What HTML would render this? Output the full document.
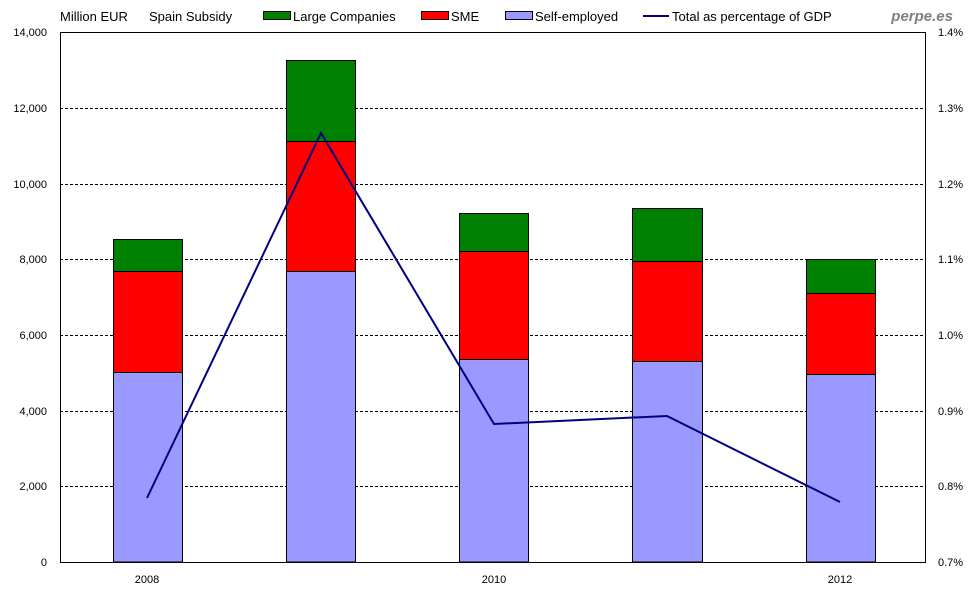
<!DOCTYPE html>
<html><head><meta charset="utf-8"><style>
body{margin:0;background:#fff}
svg{display:block;font-family:"Liberation Sans",Arial,sans-serif}
</style></head><body>
<svg width="980" height="600" viewBox="0 0 980 600">
<rect width="980" height="600" fill="#fff"/>
<g stroke="#000" stroke-width="1" stroke-dasharray="3,2">
<line x1="60" x2="925" y1="108.5" y2="108.5"/>
<line x1="60" x2="925" y1="184.5" y2="184.5"/>
<line x1="60" x2="925" y1="259.5" y2="259.5"/>
<line x1="60" x2="925" y1="335.5" y2="335.5"/>
<line x1="60" x2="925" y1="411.5" y2="411.5"/>
<line x1="60" x2="925" y1="486.5" y2="486.5"/>
</g>
<g stroke="#000" stroke-width="1">
<rect x="113.5" y="372.5" width="69" height="189.5" fill="#9999ff"/>
<rect x="113.5" y="271.5" width="69" height="101" fill="#ff0000"/>
<rect x="113.5" y="239.5" width="69" height="32" fill="#008000"/>
<rect x="286.5" y="271.5" width="69" height="290.5" fill="#9999ff"/>
<rect x="286.5" y="141.5" width="69" height="130" fill="#ff0000"/>
<rect x="286.5" y="60.5" width="69" height="81" fill="#008000"/>
<rect x="459.5" y="359.5" width="69" height="202.5" fill="#9999ff"/>
<rect x="459.5" y="251.5" width="69" height="108" fill="#ff0000"/>
<rect x="459.5" y="213.5" width="69" height="38" fill="#008000"/>
<rect x="632.5" y="361.5" width="70" height="200.5" fill="#9999ff"/>
<rect x="632.5" y="261.5" width="70" height="100" fill="#ff0000"/>
<rect x="632.5" y="208.5" width="70" height="53" fill="#008000"/>
<rect x="806.5" y="374.5" width="69" height="187.5" fill="#9999ff"/>
<rect x="806.5" y="293.5" width="69" height="81" fill="#ff0000"/>
<rect x="806.5" y="259.5" width="69" height="34" fill="#008000"/>
</g>
<rect x="60.5" y="32.5" width="865" height="530" fill="none" stroke="#000"/>
<polyline points="147,498 321,133 494,424 667,416 840,502" fill="none" stroke="#000080" stroke-width="2"/>
<g font-size="11" text-anchor="end" fill="#000">
<text x="47" y="36">14,000</text><text x="47" y="112">12,000</text><text x="47" y="188">10,000</text>
<text x="47" y="263">8,000</text><text x="47" y="339">6,000</text><text x="47" y="415">4,000</text>
<text x="47" y="490">2,000</text><text x="47" y="566">0</text>
</g>
<g font-size="11" fill="#000">
<text x="938" y="36">1.4%</text><text x="938" y="112">1.3%</text><text x="938" y="188">1.2%</text>
<text x="938" y="263">1.1%</text><text x="938" y="339">1.0%</text><text x="938" y="415">0.9%</text>
<text x="938" y="490">0.8%</text><text x="938" y="566">0.7%</text>
</g>
<g font-size="11" text-anchor="middle">
<text x="147" y="583">2008</text><text x="494" y="583">2010</text><text x="840" y="583">2012</text>
</g>
<g font-size="13">
<text x="60" y="21">Million EUR</text>
<text x="149" y="21">Spain Subsidy</text>
<rect x="263.5" y="11.5" width="27" height="8" fill="#008000" stroke="#000"/>
<text x="293" y="21">Large Companies</text>
<rect x="421.5" y="11.5" width="27" height="8" fill="#ff0000" stroke="#000"/>
<text x="451" y="21">SME</text>
<rect x="505.5" y="11.5" width="27" height="8" fill="#9999ff" stroke="#000"/>
<text x="535" y="21">Self-employed</text>
<line x1="643" x2="669" y1="16" y2="16" stroke="#000080" stroke-width="2"/>
<text x="672" y="21">Total as percentage of GDP</text>
</g>
<text x="953" y="21" font-size="15" font-weight="bold" font-style="italic" fill="#808080" text-anchor="end">perpe.es</text>
</svg>
</body></html>
